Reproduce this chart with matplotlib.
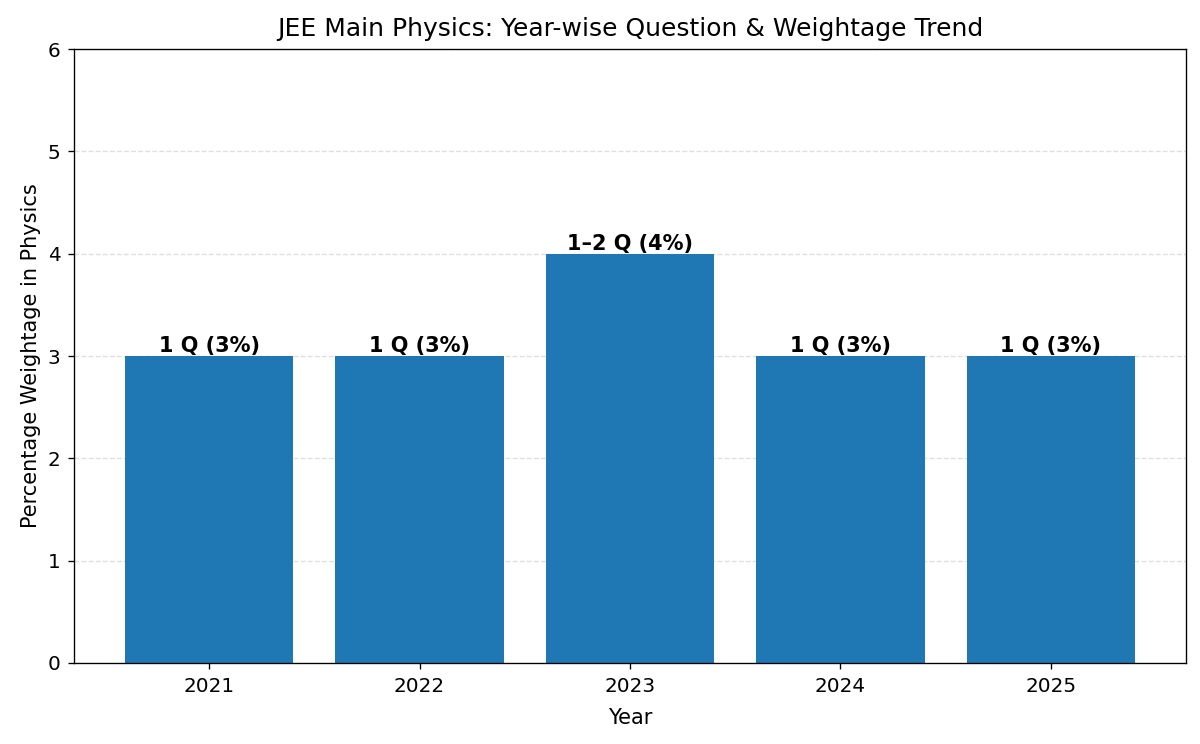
import matplotlib.pyplot as plt

years = ["2021", "2022", "2023", "2024", "2025"]
weightage = [3, 3, 4, 3, 3]
labels = ["1 Q (3%)", "1 Q (3%)", "1–2 Q (4%)", "1 Q (3%)", "1 Q (3%)"]

fig, ax = plt.subplots(figsize=(10, 6.2), dpi=120)
bars = ax.bar(years, weightage, color="#1f77b4")

for bar, lab in zip(bars, labels):
    ax.text(bar.get_x() + bar.get_width() / 2, bar.get_height(), lab,
            ha="center", va="bottom", fontsize=12.5, fontweight="bold")

ax.set_ylim(0, 6)
ax.set_title("JEE Main Physics: Year-wise Question & Weightage Trend", fontsize=15, pad=8)
ax.set_xlabel("Year", fontsize=12.5, labelpad=7)
ax.set_ylabel("Percentage Weightage in Physics", fontsize=12.5)
ax.tick_params(labelsize=12, pad=5)
ax.grid(axis="y", linestyle="--", alpha=0.4)
ax.set_axisbelow(True)

plt.subplots_adjust(left=0.062, right=0.988, top=0.934, bottom=0.109)
plt.savefig("out.png")
